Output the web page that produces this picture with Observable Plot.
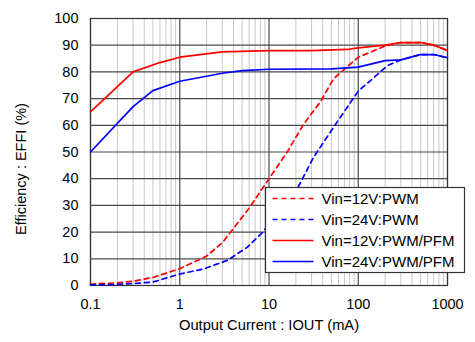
<!DOCTYPE html>
<html><head><meta charset="utf-8">
<script src="https://cdn.jsdelivr.net/npm/d3@7"></script>
<script src="https://cdn.jsdelivr.net/npm/@observablehq/plot@0.6"></script>
<style>body{margin:0;background:#fff;}</style>
</head><body><div id="chart"></div>
<script>
// Series: Vin=12V:PWM (dashed red)
const iout12Pwm = [0.1, 0.2, 0.3, 0.5, 1, 2, 3, 6, 10, 16, 24, 38, 53, 100, 200, 300, 500, 700, 1000];
const eff12Pwm  = [0.5, 1, 1.6, 3, 6.3, 11, 16, 29, 40, 50, 60, 69, 77.5, 85.5, 89.7, 91, 91, 90, 88];
// Series: Vin=24V:PWM (dashed blue)
const iout24Pwm = [0.1, 0.2, 0.3, 0.5, 1, 1.85, 3.4, 5.7, 8.5, 10, 21, 31.5, 53, 100, 214, 300, 500, 700, 1000];
const eff24Pwm  = [0.2, 0.4, 0.7, 1.3, 4.3, 6.2, 9.4, 14.3, 20, 23, 36.6, 48, 59.3, 72.8, 82.4, 84.5, 86.5, 86.5, 85.3];
// Series: Vin=12V:PWM/PFM (solid red)
const iout12Pfm = [0.1, 0.3, 0.6, 1, 3, 10, 30, 75, 100, 200, 300, 500, 700, 1000];
const eff12Pfm  = [65, 80, 83.5, 85.5, 87.5, 88, 88, 88.4, 89, 90, 91, 91, 90.1, 88];
// Series: Vin=24V:PWM/PFM (solid blue)
const iout24Pfm = [0.1, 0.3, 0.5, 1, 3, 5, 10, 50, 100, 200, 300, 500, 700, 1000];
const eff24Pfm  = [50, 67, 73, 76.5, 79.5, 80.5, 81, 81.1, 81.8, 84.2, 84.5, 86.5, 86.5, 85.3];

const seriesNames = ["Vin=12V:PWM", "Vin=24V:PWM", "Vin=12V:PWM/PFM", "Vin=24V:PWM/PFM"];
const seriesColors = ["#ff0000", "#0000ff", "#ff0000", "#0000ff"];
const seriesDashed = [true, true, false, false];

const xTicks = [0.1, 1, 10, 100, 1000];
const xTickLabels = ["0.1", "1", "10", "100", "1000"];
const yTicks = [0, 10, 20, 30, 40, 50, 60, 70, 80, 90, 100];
const minorMultipliers = [2, 3, 4, 5, 6, 7, 8, 9];
const xTitle = "Output Current : IOUT (mA)";
const yTitle = "Efficiency : EFFI (%)";

const seriesX = [iout12Pwm, iout24Pwm, iout12Pfm, iout24Pfm];
const seriesY = [eff12Pwm, eff24Pwm, eff12Pfm, eff24Pfm];
const tables = seriesX.map((xs, k) => xs.map((x, i) => ({x, y: seriesY[k][i]})));
const minorX = xTicks.slice(0, -1).flatMap(d => minorMultipliers.map(m => +(d * m).toPrecision(3)));

const font = "'Liberation Sans', Arial, sans-serif";
const svg = Plot.plot({
  width: 475, height: 342,
  marginLeft: 90, marginRight: 28, marginTop: 18, marginBottom: 57,
  style: {fontFamily: font, fontSize: "14.5px", color: "#000", background: "#fff"},
  x: {type: "log", domain: [0.1, 1000]},
  y: {domain: [0, 100]},
  marks: [
    Plot.ruleX(minorX, {stroke: "#c8c8c8", strokeWidth: 1}),
    Plot.ruleX(xTicks, {stroke: "#4a4a4a", strokeWidth: 1.2}),
    Plot.ruleY(yTicks, {stroke: "#4a4a4a", strokeWidth: 1.2}),
    Plot.frame({stroke: "#333", strokeWidth: 1.2}),
    ...tables.map((t, k) => Plot.line(t, {x: "x", y: "y", stroke: seriesColors[k], strokeWidth: 1.7,
      strokeDasharray: seriesDashed[k] ? "5,4" : null})),
    Plot.axisX({ticks: xTicks, tickFormat: d => xTickLabels[xTicks.indexOf(d)], tickSize: 0, tickPadding: 13,
      label: null, fontSize: 14.5}),
    Plot.axisY({ticks: yTicks, tickSize: 0, tickPadding: 12, label: null, fontSize: 14.5}),
    Plot.text([xTitle], {text: d => d, frameAnchor: "bottom", lineAnchor: "middle", textAnchor: "middle",
      dy: 40, fontSize: 14.7, fill: "#000"}),
    Plot.text([yTitle], {text: d => d, frameAnchor: "left", lineAnchor: "middle", textAnchor: "middle",
      dx: -69, dy: 17, rotate: -90, fontSize: 14.5, fill: "#000"})
  ]
});

// Legend box
const lg = d3.select(svg).append("g").attr("transform", "translate(265.5,187.5)");
lg.append("rect").attr("width", 199).attr("height", 85).attr("fill", "#fff").attr("stroke", "#333").attr("stroke-width", 1.2);
seriesNames.forEach((name, k) => {
  const yy = 11 + k * 21;
  lg.append("line").attr("x1", 7).attr("x2", 48).attr("y1", yy).attr("y2", yy)
    .attr("stroke", seriesColors[k]).attr("stroke-width", 1.7)
    .attr("stroke-dasharray", seriesDashed[k] ? "5,4" : null);
  lg.append("text").attr("x", 56).attr("y", yy).attr("dy", "0.35em").attr("text-anchor", "start")
    .attr("font-family", font).attr("font-size", 15).attr("fill", "#000").text(name);
});
document.getElementById("chart").appendChild(svg);
</script>
</body></html>
